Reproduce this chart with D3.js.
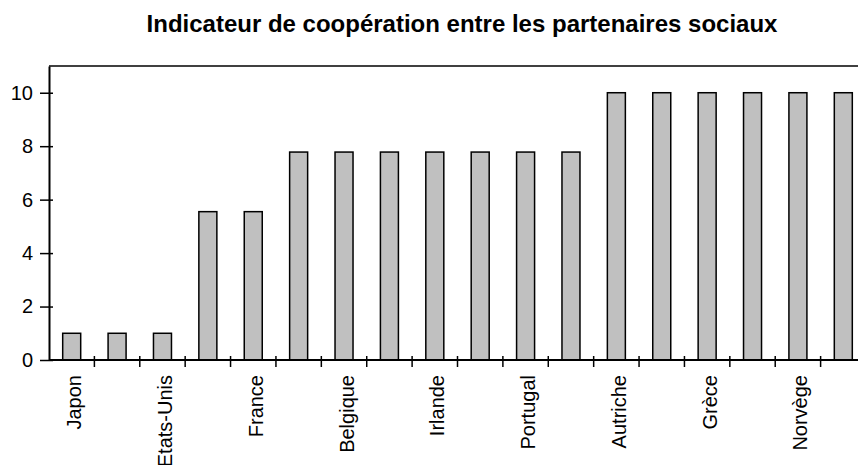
<!DOCTYPE html>
<html lang="fr">
<head>
    <meta charset="UTF-8">
    <title>Indicateur de coopération</title>
    <script src="https://cdn.jsdelivr.net/npm/d3@7"></script>
    <style>
      body { margin: 0; background: #fff; }
      text { font-family: "Liberation Sans", Arial, sans-serif; }
    </style>
</head>
<body>
    <script>
      // 18 pays, seul un sur deux est nommé sur l'axe
      const labels = ["Japon", "", "Etats-Unis", "", "France", "", "Belgique", "", "Irlande",
                      "", "Portugal", "", "Autriche", "", "Grèce", "", "Norvège", ""];
      const values = [1, 1, 1, 5.55, 5.55, 7.78, 7.78, 7.78, 7.78,
                      7.78, 7.78, 7.78, 10, 10, 10, 10, 10, 10];
      const yTicks = [0, 2, 4, 6, 8, 10];

      const w = 858;
      const h = 465;
      const padLeft = 49, padTop = 66, padBottom = 360, padRight = 866;

      const svg = d3.select("body")
                    .append("svg")
                    .attr("width", w)
                    .attr("height", h);

      // une bande par pays
      const band = d3.scaleBand()
                     .domain(d3.range(values.length))
                     .range([padLeft, padRight]);

      const yScale = d3.scaleLinear()
                       .domain([0, 11])
                       .range([padBottom, padTop]);

      // titre
      svg.append("text")
         .attr("x", 462)
         .attr("y", 32)
         .attr("text-anchor", "middle")
         .attr("font-size", 24)
         .attr("font-weight", "bold")
         .text("Indicateur de coopération entre les partenaires sociaux");

      // barres
      svg.selectAll("rect.bar")
         .data(values)
         .enter()
         .append("rect")
         .attr("class", "bar")
         .attr("x", (d, i) => band(i) + band.bandwidth() / 2 - 9)
         .attr("y", (d) => yScale(d))
         .attr("width", 18)
         .attr("height", (d) => padBottom - yScale(d))
         .attr("fill", "#c0c0c0")
         .attr("stroke", "#000")
         .attr("stroke-width", 1.5);

      // cadre du haut
      svg.append("line")
         .attr("x1", padLeft).attr("x2", padRight)
         .attr("y1", padTop).attr("y2", padTop)
         .attr("stroke", "#000")
         .attr("stroke-width", 1.5);

      // axe y
      const yAxis = d3.axisLeft(yScale)
                      .tickValues(yTicks)
                      .tickSizeInner(9)
                      .tickSizeOuter(0)
                      .tickPadding(7);

      const gy = svg.append("g")
         .attr("transform", "translate(" + padLeft + ",0)")
         .call(yAxis);
      gy.select(".domain").attr("stroke-width", 2);
      gy.selectAll(".tick line").attr("stroke-width", 1.5).attr("x2", -9).attr("x1", 4);
      gy.selectAll(".tick text").attr("font-size", 20).attr("font-family", null);

      // axe x : séparateurs entre les barres
      svg.append("line")
         .attr("x1", padLeft).attr("x2", padRight)
         .attr("y1", padBottom).attr("y2", padBottom)
         .attr("stroke", "#000")
         .attr("stroke-width", 2);

      svg.selectAll("line.sep")
         .data(d3.range(1, values.length))
         .enter()
         .append("line")
         .attr("class", "sep")
         .attr("x1", (d) => band(d))
         .attr("x2", (d) => band(d))
         .attr("y1", padBottom - 4)
         .attr("y2", padBottom + 7)
         .attr("stroke", "#000")
         .attr("stroke-width", 1.5);

      // étiquettes verticales
      svg.selectAll("text.xlab")
         .data(labels)
         .enter()
         .append("text")
         .attr("class", "xlab")
         .attr("text-anchor", "end")
         .attr("font-size", 20)
         .attr("transform", (d, i) => "translate(" + (band(i) + band.bandwidth() / 2 + 9.5) + "," + (padBottom + 15) + ") rotate(-90)")
         .text((d) => d);
    </script>
</body>
</html>
